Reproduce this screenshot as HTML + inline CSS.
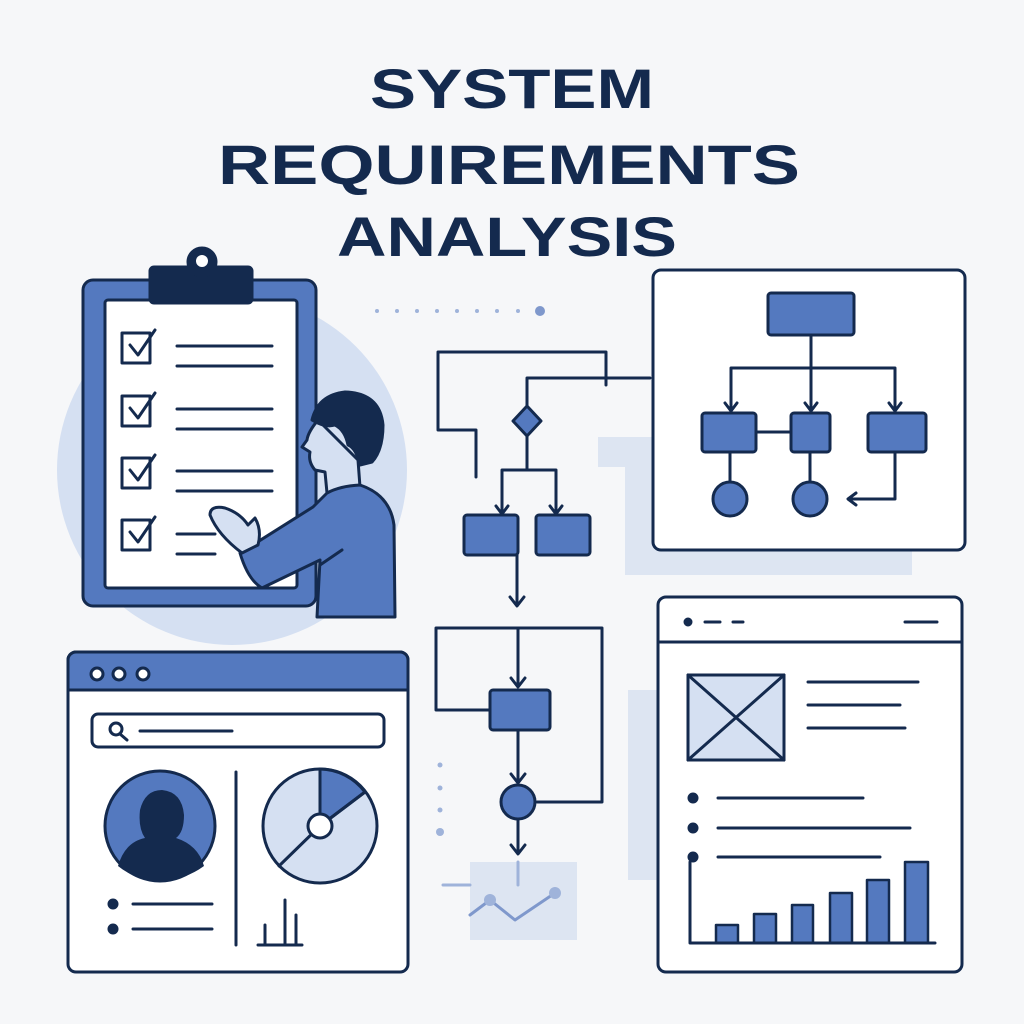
<!DOCTYPE html>
<html><head><meta charset="utf-8"><style>html,body{margin:0;padding:0;background:#f6f7f9}svg{display:block}</style></head>
<body>
<svg width="1024" height="1024" viewBox="0 0 1024 1024" xmlns="http://www.w3.org/2000/svg">
<rect width="1024" height="1024" fill="#f6f7f9"/>
<g font-family="Liberation Sans, sans-serif" font-weight="bold" font-size="56" fill="#142a4e" text-anchor="middle">
<text x="512" y="108" textLength="284" lengthAdjust="spacingAndGlyphs">SYSTEM</text>
<text x="509" y="184" textLength="582" lengthAdjust="spacingAndGlyphs">REQUIREMENTS</text>
<text x="507" y="256" textLength="340" lengthAdjust="spacingAndGlyphs">ANALYSIS</text>
</g>
<g fill="none" stroke="#142a4e" stroke-width="3" stroke-linecap="round" stroke-linejoin="round">
<circle cx="232" cy="470" r="175" fill="#d5e0f2" stroke="none"/>
<path d="M598 437 H655 V548 H912 V575 H625 V467 H598Z" fill="#dde5f2" stroke="none"/>
<rect x="628" y="690" width="32" height="190" fill="#dde5f2" stroke="none"/>
<rect x="470" y="862" width="107" height="78" fill="#dde5f2" stroke="none"/>
<!-- clipboard -->
<rect x="83" y="280" width="233" height="326" rx="10" fill="#5479bf"/>
<rect x="105" y="300" width="192" height="288" rx="3" fill="#fff"/>
<rect x="150" y="267" width="102" height="36" rx="4" fill="#142a4e"/>
<circle cx="202" cy="262" r="14" fill="#142a4e"/>
<circle cx="202" cy="261" r="6" fill="#fff" stroke="none"/>
<rect x="122" y="333" width="28" height="30"/><path d="M130 345 L138 355 L155 330"/>
<rect x="122" y="396" width="28" height="30"/><path d="M130 408 L138 418 L155 393"/>
<rect x="122" y="458" width="28" height="30"/><path d="M130 470 L138 480 L155 455"/>
<rect x="122" y="520" width="28" height="30"/><path d="M130 532 L138 542 L155 517"/>
<path d="M177 346H272M177 366H272M177 409H272M177 429H272M177 471H272M177 491H272M177 534H215M177 554H215"/>
<!-- person -->
<path d="M318 420 Q308 432 307 440 L302 447 L310 452 Q308 462 315 470 L325 472 L327 493 L360 487 L358 460 Z" fill="#d5e0f2"/>
<path d="M312 420 Q318 395 345 392 Q380 393 383 425 Q383 450 372 462 L360 465 Q356 448 348 445 Q345 430 335 425 Q325 428 312 420Z" fill="#142a4e"/>
<path d="M327 493 Q340 486 360 485 Q390 495 394 525 L395 617 L317 617 L320 560 L262 588 Q248 580 240 553 L313 507 Z" fill="#5479bf"/>
<path d="M342 550 L320 565" />
<path d="M242 553 Q218 535 210 515 Q210 505 225 508 Q240 513 248 525 L255 518 Q262 530 258 545 Z" fill="#d5e0f2"/>
<!-- right top diagram -->
<rect x="653" y="270" width="312" height="280" rx="8" fill="#fff"/>
<rect x="768" y="293" width="86" height="42" rx="3" fill="#5479bf"/>
<path d="M811 335V368M731 368H895M731 368V409M811 368V409M895 368V409"/>
<path d="M725 403L731 411L737 403M805 403L811 411L817 403M889 403L895 411L901 403"/>
<rect x="702" y="413" width="54" height="39" rx="3" fill="#5479bf"/>
<rect x="791" y="413" width="39" height="39" rx="3" fill="#5479bf"/>
<rect x="868" y="413" width="58" height="39" rx="3" fill="#5479bf"/>
<path d="M756 432H791M730 452V482M810 452V482M895 452V499H850M856 493L848 499L856 505"/>
<circle cx="730" cy="499" r="17" fill="#5479bf"/>
<circle cx="810" cy="499" r="17" fill="#5479bf"/>
<!-- center flow -->
<g fill="#9fb3da" stroke="none"><circle cx="377" cy="311" r="2"/><circle cx="397" cy="311" r="2"/><circle cx="417" cy="311" r="2"/><circle cx="437" cy="311" r="2"/><circle cx="457" cy="311" r="2"/><circle cx="477" cy="311" r="2"/><circle cx="497" cy="311" r="2"/><circle cx="518" cy="311" r="2"/><circle cx="540" cy="311" r="5" fill="#7f98cc"/>
<circle cx="440" cy="765" r="2.5"/><circle cx="440" cy="788" r="2.5"/><circle cx="440" cy="810" r="2.5"/><circle cx="440" cy="832" r="4"/></g>
<path d="M438 352H606V385M438 352V430H476V477M527 378H650M527 378V410M527 434V470H502V513M527 470H556V513"/>
<path d="M527 406L541 421L527 436L513 421Z" fill="#5479bf"/>
<path d="M496 506L502 514L508 506M550 506L556 514L562 506"/>
<rect x="464" y="515" width="54" height="40" rx="3" fill="#5479bf"/>
<rect x="536" y="515" width="54" height="40" rx="3" fill="#5479bf"/>
<path d="M517 555V605M510 597L517 606L524 597"/>
<path d="M436 628H602V802H537M436 628V710H490M518 628V686M511 678L518 687L525 678"/>
<rect x="490" y="690" width="60" height="40" rx="3" fill="#5479bf"/>
<path d="M518 730V782M511 774L518 783L525 774"/>
<circle cx="518" cy="802" r="17" fill="#5479bf"/>
<path d="M518 820V853M511 845L518 854L525 845"/>
<path d="M443 885H470M518 862V885" stroke="#9fb3da"/>
<path d="M470 915L490 900L515 920L555 893" stroke="#7f98cc"/>
<circle cx="490" cy="900" r="6" fill="#9fb3da" stroke="none"/><circle cx="555" cy="893" r="6" fill="#9fb3da" stroke="none"/>
<!-- bottom left browser -->
<rect x="68" y="652" width="340" height="320" rx="8" fill="#fff"/>
<path d="M76 652H400A8 8 0 0 1 408 660V690H68V660A8 8 0 0 1 76 652Z" fill="#5479bf"/>
<circle cx="97" cy="674" r="6" fill="#fff"/><circle cx="119" cy="674" r="6" fill="#fff"/><circle cx="143" cy="674" r="6" fill="#fff"/>
<rect x="92" y="714" width="292" height="33" rx="6" fill="#fff"/>
<circle cx="116" cy="729" r="6"/><path d="M120 734L127 740M140 731H232M236 772V945"/>
<circle cx="160" cy="826" r="55" fill="#5479bf"/>
<path d="M118 866 Q125 842 145 838 Q138 828 140 810 Q145 790 162 790 Q182 792 184 815 Q184 832 176 838 Q198 845 204 866 Q185 880 160 881 Q135 880 118 866Z" fill="#142a4e" stroke="none"/>
<circle cx="320" cy="826" r="57" fill="#d5e0f2"/>
<path d="M320 826V769A57 57 0 0 1 365 792Z" fill="#5479bf"/>
<path d="M320 826L279 866M320 826L365 792"/>
<circle cx="320" cy="826" r="12" fill="#fff"/>
<circle cx="113" cy="904" r="4" fill="#142a4e"/><circle cx="113" cy="929" r="4" fill="#142a4e"/>
<path d="M133 904H212M133 929H212M258 945H302M265 945V925M285 945V900M296 945V915"/>
<!-- bottom right -->
<rect x="658" y="597" width="304" height="375" rx="8" fill="#fff"/>
<path d="M658 642H962M705 622H720M733 622H743M905 622H937"/>
<circle cx="688" cy="622" r="3" fill="#142a4e"/>
<rect x="688" y="675" width="96" height="85" fill="#d5e0f2"/>
<path d="M688 675L784 760M784 675L688 760"/>
<path d="M808 682H918M808 705H900M808 728H905M718 798H863M718 828H910M718 857H880"/>
<circle cx="693" cy="798" r="4" fill="#142a4e"/><circle cx="693" cy="828" r="4" fill="#142a4e"/><circle cx="693" cy="857" r="4" fill="#142a4e"/>
<g fill="#5479bf" stroke-width="2.5">
<rect x="716" y="925" width="22" height="18"/><rect x="754" y="914" width="22" height="29"/><rect x="792" y="905" width="21" height="38"/><rect x="830" y="893" width="22" height="50"/><rect x="867" y="880" width="22" height="63"/><rect x="905" y="862" width="23" height="81"/>
</g>
<path d="M690 943H935M690 943V862"/>
</g>
</svg>
</body></html>
